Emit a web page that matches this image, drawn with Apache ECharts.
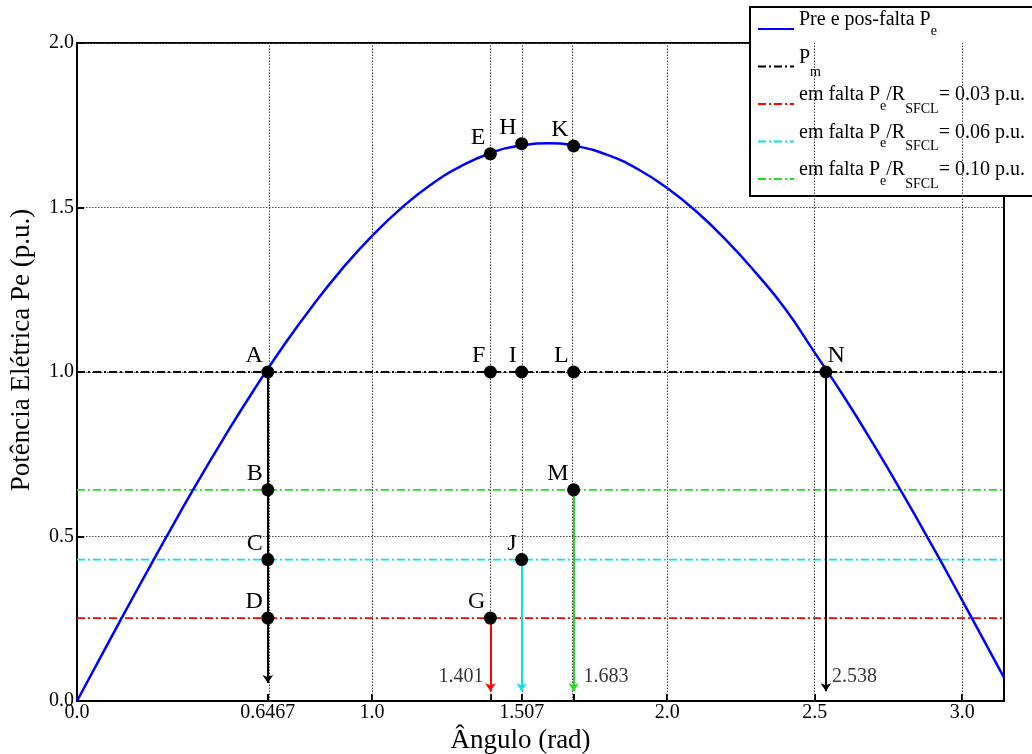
<!DOCTYPE html>
<html><head><meta charset="utf-8">
<script src="https://cdn.jsdelivr.net/npm/echarts@6/dist/echarts.min.js"></script>
<style>html,body{margin:0;padding:0;background:#fff}#c{width:1032px;height:754px}</style>
</head><body><div id="c"></div>
<script>
// ---------- data ----------
const xMax = 3.1416;
const curveX = [0, 0.1, 0.2, 0.3, 0.4, 0.5, 0.6, 0.7, 0.8, 0.9, 1.0, 1.1, 1.2, 1.3, 1.4, 1.5, 1.6, 1.7, 1.8, 1.9, 2.0, 2.1, 2.2, 2.3, 2.4, 2.5, 2.6, 2.7, 2.8, 2.9, 3.0, 3.1, 3.1416];
const curveY = [0, 0.167, 0.332, 0.494, 0.652, 0.803, 0.946, 1.080, 1.203, 1.315, 1.414, 1.499, 1.570, 1.625, 1.665, 1.688, 1.695, 1.685, 1.659, 1.617, 1.559, 1.487, 1.401, 1.302, 1.192, 1.059, 0.924, 0.779, 0.627, 0.469, 0.306, 0.140, 0.071];
const pmLevel = 1.0;
const faultLevels = [0.252, 0.43, 0.642];           // 0.03, 0.06, 0.10 p.u.
const seriesNames = ['Pre e pos-falta Pe', 'Pm', 'em falta Pe/RSFCL = 0.03 p.u.', 'em falta Pe/RSFCL = 0.06 p.u.', 'em falta Pe/RSFCL = 0.10 p.u.'];
const legendRich = [
  '{m|Pre e pos-falta P}{se|e}',
  '{m|P}{sm|m}',
  '{m|em falta P}{se|e}{m|/R}{sf|SFCL}{m|= 0.03 p.u.}',
  '{m|em falta P}{se|e}{m|/R}{sf|SFCL}{m|= 0.06 p.u.}',
  '{m|em falta P}{se|e}{m|/R}{sf|SFCL}{m|= 0.10 p.u.}'
];
const pointNames = ['A', 'B', 'C', 'D', 'E', 'F', 'G', 'H', 'I', 'J', 'K', 'L', 'M', 'N'];
const pointX = [0.6467, 0.6467, 0.6467, 0.6467, 1.401, 1.401, 1.401, 1.507, 1.507, 1.507, 1.683, 1.683, 1.683, 2.538];
const pointY = [1.0, 0.642, 0.43, 0.252, 1.663, 1.0, 0.252, 1.694, 1.0, 0.43, 1.687, 1.0, 0.642, 1.0];
const arrowX = [0.6467, 1.401, 1.507, 1.683, 2.538];
const arrowFrom = [1.0, 0.252, 0.43, 0.642, 1.0];
const arrowTo = [0.055, 0.03, 0.03, 0.03, 0.03];
const arrowLabelX = [1.401, 1.683, 2.538];
const arrowLabelText = ['1.401', '1.683', '2.538'];
const arrowLabelY = 0.073;
const xTickValues = [0, 0.6467, 1.0, 1.401, 1.507, 1.683, 2.0, 2.5, 3.0];
const xLabelValues = [0, 0.6467, 1.0, 1.507, 2.0, 2.5, 3.0];
const xLabelText = ['0.0', '0.6467', '1.0', '1.507', '2.0', '2.5', '3.0'];
const xGridValues = [0.6467, 1.0, 1.401, 1.507, 1.683, 2.0, 2.5, 3.0];
const yLabelText = ['0.0', '0.5', '1.0', '1.5', '2.0'];
const xTitle = 'Ângulo (rad)';
const yTitle = 'Potência Elétrica Pe (p.u.)';

// ---------- styles ----------
const FONT = '"Liberation Serif", "DejaVu Serif", serif';
const faultColors = ['#ff0000', '#00e5ee', '#22dd22'];
const arrowColors = ['#000000', '#ff0000', '#00e5ee', '#22dd22', '#000000'];
const dashDot = [8, 3, 2, 3];
const rightLabeled = ['N'];
const arrowLabelLeft = ['1.401'];

const chart = echarts.init(document.getElementById('c'), null, {renderer: 'canvas'});

const series = [];
series.push({
  name: seriesNames[0], type: 'line', symbol: 'none', smooth: true, z: 4,
  data: curveX.map((x, i) => [x, curveY[i]]),
  lineStyle: {color: '#0000ff', width: 2.5}, itemStyle: {color: '#0000ff'}
});
series.push({
  name: seriesNames[1], type: 'line', symbol: 'none', z: 3,
  data: [[0, pmLevel], [xMax, pmLevel]],
  lineStyle: {color: '#000', width: 1.8, type: dashDot}, itemStyle: {color: '#000'}
});
faultLevels.forEach((lv, i) => {
  series.push({
    name: seriesNames[i + 2], type: 'line', symbol: 'none', z: 3,
    data: [[0, lv], [xMax, lv]],
    lineStyle: {color: faultColors[i], width: 1.8, type: dashDot}, itemStyle: {color: faultColors[i]}
  });
});
// vertical dotted grid lines
series.push({
  name: 'vgrid', type: 'line', data: [], z: 1,
  markLine: {
    silent: true, symbol: ['none', 'none'], animation: false,
    label: {show: false},
    lineStyle: {color: '#444', width: 1, type: [1.5, 1.5]},
    data: xGridValues.map(v => ({xAxis: v}))
  }
});
// arrows
series.push({
  name: 'arrows', type: 'line', data: [], z: 5,
  markLine: {
    silent: true, symbol: ['none', 'arrow'], symbolSize: 8, animation: false,
    label: {show: false},
    data: arrowX.map((x, i) => [
      {coord: [x, arrowFrom[i]], lineStyle: {color: arrowColors[i], width: 2, type: 'solid'}},
      {coord: [x, arrowTo[i]]}
    ])
  }
});
// points
series.push({
  name: 'points', type: 'scatter', symbol: 'circle', symbolSize: 13, z: 6,
  itemStyle: {color: '#000', opacity: 1},
  data: pointNames.map((n, i) => {
    const right = rightLabeled.includes(n);
    return {
      name: n, value: [pointX[i], pointY[i]],
      label: right ? {position: [8, -9.5], align: 'left'} : {position: [1.5, -9.5], align: 'right'}
    };
  }),
  label: {show: true, formatter: p => p.name, fontFamily: FONT, fontSize: 24, color: '#000', verticalAlign: 'middle'}
});
// arrow value labels
series.push({
  name: 'arrowLabels', type: 'scatter', symbolSize: 0, z: 6,
  data: arrowLabelX.map((x, i) => {
    const left = arrowLabelLeft.includes(arrowLabelText[i]);
    return {
      name: arrowLabelText[i], value: [x, arrowLabelY],
      label: left ? {position: 'left', distance: 7} : {position: 'right', distance: i === 1 ? 10 : 6}
    };
  }),
  label: {show: true, formatter: p => p.name, fontFamily: FONT, fontSize: 20, color: '#000'}
});

const option = {
  animation: false,
  backgroundColor: '#fff',
  grid: {left: 77, right: 28, top: 43, bottom: 53, show: true, borderColor: '#000', borderWidth: 2, containLabel: false, outerBoundsMode: 'none'},
  legend: {
    data: seriesNames,
    orient: 'vertical', left: 750, top: 7,
    padding: [3, 100, 0, 7],
    itemGap: 1.5, itemWidth: 36, itemHeight: 14,
    backgroundColor: '#fff', borderColor: '#000', borderWidth: 2, borderRadius: 0,
    selectedMode: false,
    itemStyle: {opacity: 0},
    formatter: name => legendRich[seriesNames.indexOf(name)],
    textStyle: {
      fontFamily: FONT, color: '#000', padding: [0, 0, 14, 0],
      rich: {
        m: {fontFamily: FONT, fontSize: 20, lineHeight: 24, color: '#000', verticalAlign: 'top'},
        se: {fontFamily: FONT, fontSize: 14, lineHeight: 14, color: '#000', verticalAlign: 'top', padding: [14, 0, 8, 0]},
        sf: {fontFamily: FONT, fontSize: 14, lineHeight: 14, color: '#000', verticalAlign: 'top', padding: [17, 0, 5, 0]},
        sm: {fontFamily: FONT, fontSize: 14, lineHeight: 14, color: '#000', verticalAlign: 'top', padding: [18, 0, 4, 0]}
      }
    }
  },
  xAxis: {
    type: 'value', min: 0, max: xMax,
    name: xTitle, nameLocation: 'middle', nameGap: 22,
    nameTextStyle: {fontFamily: FONT, fontSize: 27, color: '#000', padding: [0, 40, 0, 0]},
    axisLine: {show: true, onZero: false, lineStyle: {color: '#000', width: 2}},
    axisTick: {show: true, inside: true, length: 7, customValues: xTickValues, lineStyle: {color: '#000', width: 2}},
    axisLabel: {
      show: true, customValues: xLabelValues, margin: 2,
      fontFamily: FONT, fontSize: 20, color: '#000',
      formatter: v => {
        let best = 0;
        xLabelValues.forEach((lv, i) => { if (Math.abs(lv - v) < Math.abs(xLabelValues[best] - v)) best = i; });
        return xLabelText[best];
      }
    },
    splitLine: {show: false}
  },
  yAxis: {
    type: 'value', min: 0, max: 2, interval: 0.5,
    name: yTitle, nameLocation: 'middle', nameGap: 42, nameRotate: 90,
    nameTextStyle: {fontFamily: FONT, fontSize: 27, color: '#000', padding: [0, 0, 0, 44]},
    axisLine: {show: true, onZero: false, lineStyle: {color: '#000', width: 2}},
    axisTick: {show: true, inside: true, length: 7, lineStyle: {color: '#000', width: 2}},
    axisLabel: {
      fontFamily: FONT, fontSize: 20, color: '#000', margin: 3,
      padding: [0, 0, 10, 0],
      formatter: v => yLabelText[Math.round(v / 0.5)]
    },
    splitLine: {show: true, lineStyle: {color: '#444', width: 1, type: [1.5, 1.5]}}
  },
  series: series
};
chart.setOption(option);
</script>
</body></html>
